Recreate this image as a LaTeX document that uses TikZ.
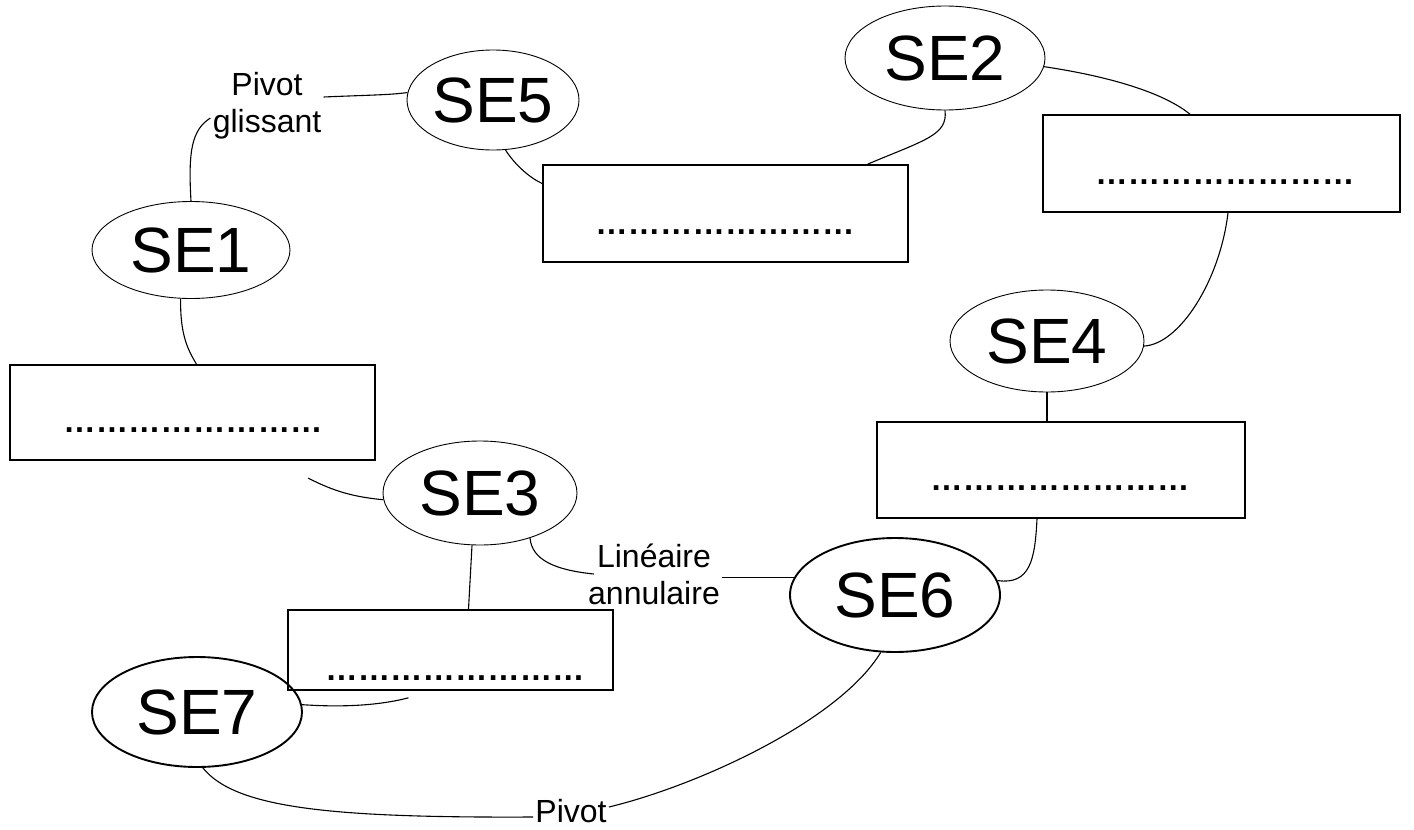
\documentclass[tikz,border=0pt]{standalone}
\usepackage{fontspec}
\setmainfont{Liberation Sans}
\usetikzlibrary{shapes.geometric}
\begin{document}
\begin{tikzpicture}[x=0.5pt,y=-0.5pt,
  se/.style={ellipse,draw,line width=0.45pt,inner sep=0pt,font=\fontsize{32}{36}\selectfont},
  sebold/.style={se,line width=0.95pt},
  blank/.style={rectangle,draw,line width=0.8pt,inner sep=0pt},
  dotrow/.style={inner sep=0pt,anchor=base,font=\bfseries\fontsize{16.2}{18}\selectfont},
  lbl/.style={inner sep=1pt,align=center,font=\fontsize{16}{18.5}\selectfont},
  link/.style={line width=0.55pt}
]
\useasboundingbox (0,0) rectangle (1414,830);

% sub-assemblies
\node[se, minimum width=86pt, minimum height=50pt] (se5) at (493,100) {SE5};
\node[se, minimum width=100pt, minimum height=52pt] (se2) at (945,58) {SE2};
\node[se, minimum width=99pt, minimum height=48.5pt] (se1) at (191,250) {SE1};
\node[se, minimum width=97pt, minimum height=51pt] (se4) at (1047,341) {SE4};
\node[se, minimum width=97pt, minimum height=52pt] (se3) at (480,493) {SE3};
\node[sebold, minimum width=105pt, minimum height=57pt] (se6) at (895,595) {SE6};
\node[sebold, minimum width=105pt, minimum height=55pt] (se7) at (197,712) {SE7};

% boxes to fill in
\node[blank, minimum width=182.5pt, minimum height=48.5pt] (b5) at (725.5,213.5) {};
\node[blank, minimum width=178.5pt, minimum height=48.5pt] (b2) at (1221.5,163.5) {};
\node[blank, minimum width=182.5pt, minimum height=47.5pt] (b1) at (192.5,412.5) {};
\node[blank, minimum width=184pt, minimum height=48pt] (b4) at (1061,470) {};
\node[blank, minimum width=162.5pt, minimum height=40pt] (b3) at (450.5,650) {};

\node[dotrow] (d5) at (725,234) {……………………};
\node[dotrow] (d2) at (1225,184) {……………………};
\node[dotrow] (d1) at (193,432) {……………………};
\node[dotrow] (d4) at (1060,490) {……………………};
\node[dotrow] (d3) at (455,680) {……………………};

% joint labels
\node[lbl] (pg) at (267,106) {Pivot\\glissant};
\node[lbl] (la) at (654,574) {Linéaire\\annulaire};
\node[lbl] (pv) at (571,811) {Pivot};

\coordinate (c1) at (308,478);

% links
\draw[link] (se1.north) .. controls (188,150) and (192,130) .. ([yshift=-6pt]pg.west);
\draw[link] (se1.-102) .. controls (180,335) and (188,350) .. ([xshift=2pt]b1.north);
\draw[link] ([yshift=4.5pt]pg.east) .. controls (370,95) and (390,95) .. (se5.175);
\draw[link] (se5.-76) .. controls (515,165) and (530,178) .. ([yshift=15pt]b5.west);
\draw[link] (se2.south) .. controls (948,135) and (925,140) .. ([xshift=71pt]b5.north);
\draw[link] (se2.-5) .. controls (1100,75) and (1160,90) .. ([xshift=-15.75pt]b2.north);
\draw[link] ([xshift=3.25pt]b2.south) .. controls (1220,280) and (1180,344) .. (se4.-3);
\draw[link] (se4.south) -- (se4.south |- b4.north);
\draw[link] ([xshift=-12pt]b4.south) .. controls (1035,560) and (1030,585) .. (se6.8);
\draw[link] (se6.170) -- (se6.170 -| la.east);
\draw[link] ([xshift=4pt]la.west) .. controls (555,570) and (532,560) .. (se3.-42);
\draw[link] (c1) .. controls (335,492) and (355,497) .. (se3.184);
\draw[link] ([xshift=-4pt]se3.south) -- ([xshift=9pt]b3.north);
\draw[link] (se7.4) .. controls (350,708) and (385,704) .. ([xshift=-21pt,yshift=-3.5pt]b3.south);
\draw[link] (se7.-84) .. controls (235,808) and (330,818) .. ([yshift=-3pt]pv.west);
\draw[link] ([yshift=2pt]pv.east) .. controls (700,785) and (840,720) .. (se6.-104);
\end{tikzpicture}
\end{document}
